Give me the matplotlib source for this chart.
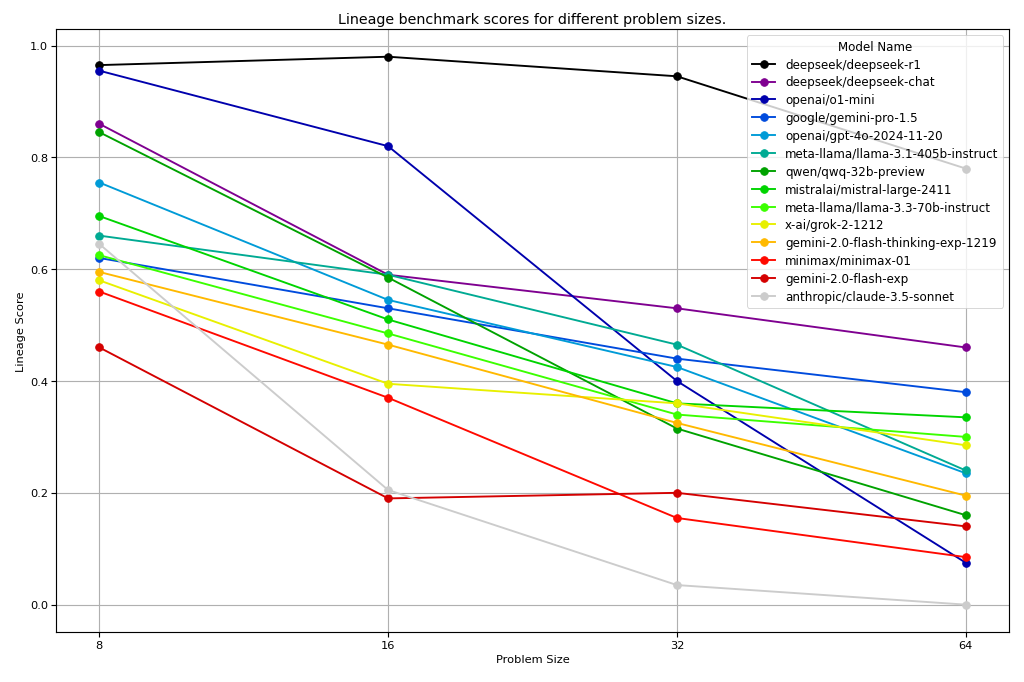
import matplotlib
matplotlib.use("Agg")
import matplotlib.pyplot as plt
import numpy as np
from matplotlib.ticker import FixedLocator, FixedFormatter, NullLocator

problem_sizes = [8, 16, 32, 64]
models = [
    "deepseek/deepseek-r1",
    "deepseek/deepseek-chat",
    "openai/o1-mini",
    "google/gemini-pro-1.5",
    "openai/gpt-4o-2024-11-20",
    "meta-llama/llama-3.1-405b-instruct",
    "qwen/qwq-32b-preview",
    "mistralai/mistral-large-2411",
    "meta-llama/llama-3.3-70b-instruct",
    "x-ai/grok-2-1212",
    "gemini-2.0-flash-thinking-exp-1219",
    "minimax/minimax-01",
    "gemini-2.0-flash-exp",
    "anthropic/claude-3.5-sonnet",
]
deepseek_r1 = [0.965, 0.980, 0.945, 0.780]
deepseek_chat = [0.860, 0.590, 0.530, 0.460]
o1_mini = [0.955, 0.820, 0.400, 0.075]
gemini_pro = [0.620, 0.530, 0.440, 0.380]
gpt4o = [0.755, 0.545, 0.425, 0.235]
llama405 = [0.660, 0.590, 0.465, 0.240]
qwq = [0.845, 0.585, 0.315, 0.160]
mistral = [0.695, 0.510, 0.360, 0.335]
llama70 = [0.625, 0.485, 0.340, 0.300]
grok = [0.580, 0.395, 0.360, 0.285]
flash_thinking = [0.595, 0.465, 0.325, 0.195]
minimax = [0.560, 0.370, 0.155, 0.085]
flash_exp = [0.460, 0.190, 0.200, 0.140]
claude = [0.645, 0.205, 0.035, 0.000]

series = [deepseek_r1, deepseek_chat, o1_mini, gemini_pro, gpt4o, llama405, qwq,
          mistral, llama70, grok, flash_thinking, minimax, flash_exp, claude]

DPI = 1024 / 15
fig = plt.figure(figsize=(15, 10), dpi=DPI)
ax = fig.add_axes([56 / 1024, 1 - 633 / 683, (1009 - 56) / 1024, (633 - 30) / 683])
colors = plt.cm.nipy_spectral(np.linspace(0, 1, len(models)))
for name, vals, c in zip(models, series, colors):
    ax.plot(problem_sizes, vals, marker="o", color=c, label=name, linewidth=2, markersize=8)

ax.set_xscale("log", base=2)
ax.xaxis.set_major_locator(FixedLocator(problem_sizes))
ax.xaxis.set_major_formatter(FixedFormatter([str(s) for s in problem_sizes]))
ax.xaxis.set_minor_locator(NullLocator())
ax.set_xlabel("Problem Size", fontsize=12)
ax.set_ylabel("Lineage Score", fontsize=12)
ax.set_title("Lineage benchmark scores for different problem sizes.", fontsize=15)
ax.tick_params(labelsize=12, width=1.2, length=5)
for s in ax.spines.values():
    s.set_linewidth(1.2)
ax.grid(True, linewidth=1.2)
ax.legend(title="Model Name", loc="upper right", fontsize=12.5, title_fontsize=12.5,
          labelspacing=0.41)
fig.savefig("out.png", dpi=DPI)
